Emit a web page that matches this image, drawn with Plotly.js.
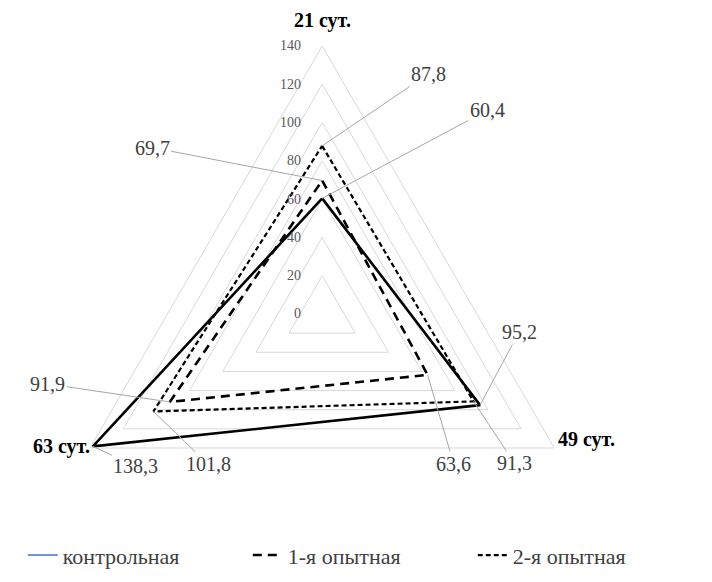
<!DOCTYPE html>
<html>
<head>
<meta charset="utf-8">
<script src="https://cdn.plot.ly/plotly-3.0.1.min.js"></script>
<style>html,body{margin:0;padding:0;background:#fff;}#chart{width:712px;height:582px;}</style>
</head>
<body>
<div id="chart"></div>
<script>
// ---- data ----
const categories = ["21 сут.", "49 сут.", "63 сут."];
const seriesNames = ["контрольная", "1-я опытная", "2-я опытная"];
const controlValues = [60.4, 95.2, 138.3];
const exp1Values = [69.7, 63.6, 91.9];
const exp2Values = [87.8, 91.3, 101.8];
const radialTicks = [0, 20, 40, 60, 80, 100, 120, 140];

// ---- styles ----
const W = 712, H = 582;
const rMax = 140;
const domX = [0.031, 0.874], domY = [0, 0.921];
const serif = "'Liberation Serif', 'Times New Roman', serif";
const styles = [
  {color: "#000000", width: 2.6, dash: "solid"},
  {color: "#000000", width: 2.6, dash: "9px,6px"},
  {color: "#000000", width: 2.2, dash: "5px,3px"}
];
// label offsets (px, text minus point) per series per category
const labelOffsets = [
  [[165, -88], [39, -73], [43, 20]],
  [[-170, -33], [26, 89], [-122, -18]],
  [[106, -72], [41, 62], [55, 53]]
];
// category label placement relative to outer vertex
const catPlace = [
  {xanchor: "center", yanchor: "bottom", xshift: 0, yshift: 12},
  {xanchor: "left", yanchor: "middle", xshift: 2, yshift: 8},
  {xanchor: "right", yanchor: "middle", xshift: 2, yshift: 1}
];

const allValues = [controlValues, exp1Values, exp2Values];
const closed = a => a.concat([a[0]]);

const traces = [];
// legend-only entry for control (legend shows thin blue line)
traces.push({type: "scatterpolar", r: [null], theta: [categories[0]], mode: "lines", name: seriesNames[0],
  line: {color: "#4472C4", width: 1.5}, hoverinfo: "skip"});
allValues.forEach((vals, i) => {
  traces.push({
    type: "scatterpolar",
    r: closed(vals), theta: closed(categories),
    mode: "lines", name: seriesNames[i],
    showlegend: i !== 0,
    line: {color: styles[i].color, width: styles[i].width, dash: styles[i].dash},
    hoverinfo: "skip"
  });
});

// compute polar geometry like Plotly does (full circle)
const xlen = (domX[1] - domX[0]) * W, ylen = (domY[1] - domY[0]) * H;
const R = Math.min(xlen, ylen) / 2;
const cxPx = domX[0] * W + xlen / 2;
const cyPx = (1 - domY[1]) * H + ylen / 2;
function toPaper(r, idx) {
  const a = (90 - idx * 120) * Math.PI / 180;
  const px = cxPx + (r / rMax) * R * Math.cos(a);
  const py = cyPx - (r / rMax) * R * Math.sin(a);
  return [px / W, 1 - py / H];
}
const fmt = v => v.toFixed(1).replace(".", ",");
const annotations = [];
allValues.forEach((vals, i) => {
  vals.forEach((v, j) => {
    const p = toPaper(v, j);
    annotations.push({
      xref: "paper", yref: "paper", x: p[0], y: p[1],
      text: fmt(v), showarrow: true, arrowhead: 0, arrowwidth: 1, arrowcolor: "#a6a6a6",
      ax: labelOffsets[i][j][0], ay: labelOffsets[i][j][1],
      font: {family: serif, size: 20, color: "#404040"}, standoff: 0
    });
  });
});
categories.forEach((c, j) => {
  const p = toPaper(rMax, j);
  annotations.push(Object.assign({
    xref: "paper", yref: "paper", x: p[0], y: p[1], text: "<b>" + c + "</b>", showarrow: false,
    font: {family: serif, size: 20, color: "#000000"}
  }, catPlace[j]));
});
// radial tick labels (left of the vertical axis)
radialTicks.forEach(t => {
  const p = toPaper(t, 0);
  annotations.push({
    xref: "paper", yref: "paper", x: p[0], y: p[1], text: String(t), showarrow: false,
    xanchor: "right", yanchor: "middle", xshift: -19, yshift: 0,
    font: {family: serif, size: 14, color: "#595959"}
  });
});

const layout = {
  width: W, height: H,
  margin: {l: 0, r: 0, t: 0, b: 0},
  paper_bgcolor: "#ffffff",
  showlegend: true,
  legend: {orientation: "h", x: 0.032, y: 0.046, yanchor: "middle", xanchor: "left",
    font: {family: serif, size: 22, color: "#404040"},
    entrywidth: 180, entrywidthmode: "pixels", bgcolor: "rgba(0,0,0,0)"},
  polar: {
    domain: {x: domX, y: domY},
    gridshape: "linear",
    bgcolor: "rgba(0,0,0,0)",
    angularaxis: {direction: "clockwise", rotation: 90, showgrid: false,
      linecolor: "#d9d9d9", linewidth: 1, ticks: "", showticklabels: false},
    radialaxis: {range: [0, rMax], tickvals: radialTicks, angle: 90,
      showticklabels: false, showline: false, ticks: "", gridcolor: "#d9d9d9", gridwidth: 1}
  },
  annotations: annotations
};
Plotly.newPlot("chart", traces, layout, {displayModeBar: false, staticPlot: true});
</script>
</body>
</html>
